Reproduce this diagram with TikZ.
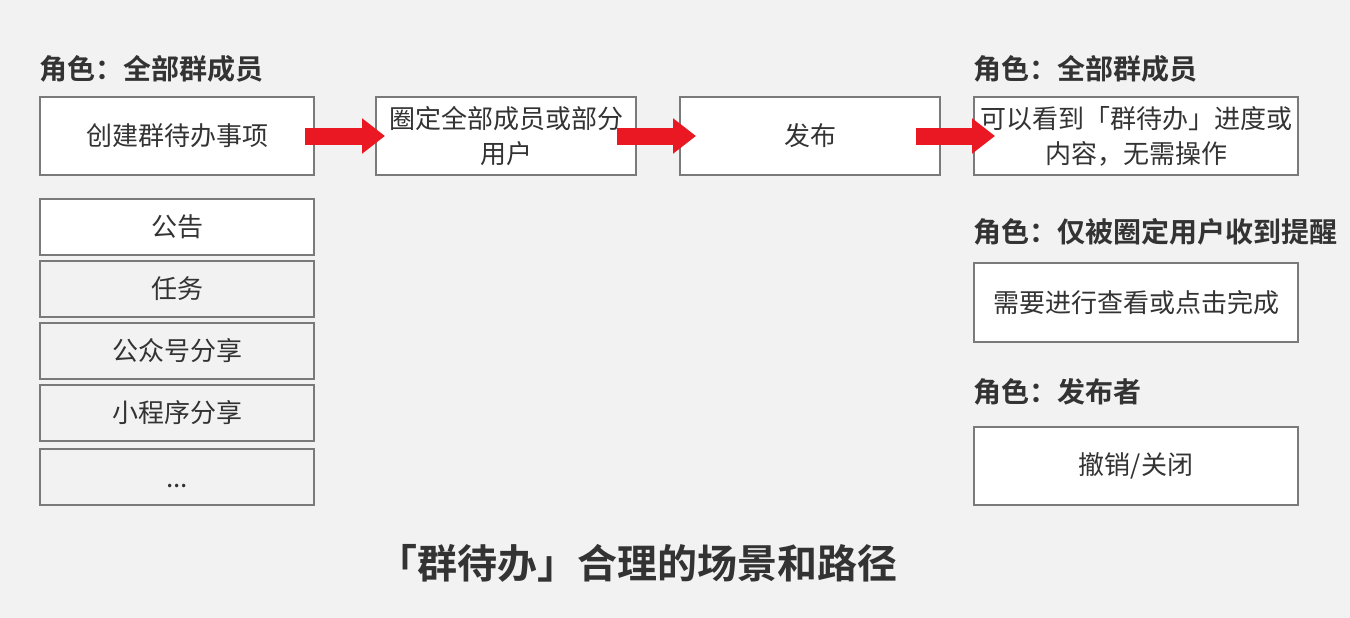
\documentclass[tikz,border=0pt]{standalone}
\usepackage{fontspec}
\setmainfont{Noto Sans CJK SC}[BoldFont={* Bold}]
\usepackage{xcolor}
\usetikzlibrary{arrows.meta,positioning}
\definecolor{pagegray}{RGB}{242,242,242}
\definecolor{boxline}{RGB}{122,122,122}
\definecolor{inkgray}{RGB}{51,51,51}
\definecolor{flowred}{RGB}{234,24,34}
\tikzset{
  flowbox/.style={
    draw=boxline,
    fill=white,
    line width=2pt,
    align=center,
    text=inkgray,
    font=\fontsize{26}{35}\selectfont,
    inner sep=0pt,
    minimum height=78pt
  },
  listbox/.style={
    flowbox,
    fill=pagegray,
    minimum width=274pt,
    minimum height=56pt
  },
  rolelabel/.style={
    anchor=west,
    inner sep=0pt,
    text=inkgray,
    font=\fontsize{28}{30}\selectfont\bfseries
  },
  titletext/.style={
    inner sep=0pt,
    text=inkgray,
    font=\fontsize{40}{44}\selectfont\bfseries
  },
  bigarrow/.style={-{Triangle[length=23pt,width=34pt]},draw=flowred,line width=17pt}
}
\begin{document}
\begin{tikzpicture}[x=1pt,y=-1pt]
\fill[pagegray] (0,0) rectangle (1350,618);
\node[flowbox,minimum width=274pt] (create) at (177,136) {创建群待办事项};
\node[flowbox,right=60pt of create,minimum width=260pt] (scope) {圈定全部成员或部分\\用户};
\node[flowbox,right=42pt of scope,minimum width=260pt] (publish) {发布};
\node[flowbox,right=32pt of publish,minimum width=324pt] (seeall) {可以看到「群待办」进度或\\内容，无需操作};
\node[listbox,below=22pt of create,fill=white] (notice) {公告};
\node[listbox,below=4pt of notice] (task) {任务};
\node[listbox,below=4pt of task] (account) {公众号分享};
\node[listbox,below=4pt of account] (miniapp) {小程序分享};
\node[listbox,below=6pt of miniapp,text height=23pt,text depth=3pt] (more) {...};
\node[flowbox,below=86pt of seeall,minimum width=324pt,minimum height=79pt] (remind) {需要进行查看或点击完成};
\node[flowbox,below=83pt of remind,minimum width=324pt] (revoke) {撤销/关闭};
\node[rolelabel] (roleleft) at ([yshift=27pt]create.north west) {角色：全部群成员};
\node[rolelabel] (roleright) at ([yshift=27pt]seeall.north west) {角色：全部群成员};
\node[rolelabel] (roleremind) at ([yshift=30.5pt]remind.north west) {角色：仅被圈定用户收到提醒};
\node[rolelabel] (rolepub) at ([yshift=34.5pt]revoke.north west) {角色：发布者};
\node[titletext] (title) at (637,563) {「群待办」合理的场景和路径};
\draw[bigarrow,shorten <=-10pt,shorten >=-10pt] (create.east)--(scope.west);
\draw[bigarrow,shorten <=-20pt,shorten >=-17pt] (scope.east)--(publish.west);
\draw[bigarrow,shorten <=-25pt,shorten >=-22pt] (publish.east)--(seeall.west);
\end{tikzpicture}
\end{document}
